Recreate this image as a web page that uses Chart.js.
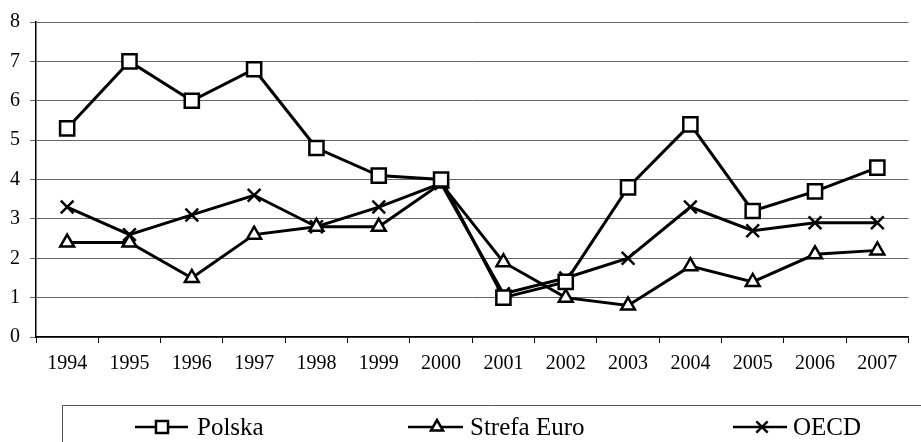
<!DOCTYPE html>
<html>
<head>
<meta charset="utf-8">
<script src="https://cdn.jsdelivr.net/npm/chart.js@4/dist/chart.umd.min.js"></script>
<style>
html,body{margin:0;padding:0;background:#fff;}
#wrap{width:921px;height:442px;position:relative;}
</style>
</head>
<body>
<div id="wrap"><canvas id="c" width="921" height="442"></canvas></div>
<script>
const years = ['1994','1995','1996','1997','1998','1999','2000','2001','2002','2003','2004','2005','2006','2007'];
const polska = [5.3, 7.0, 6.0, 6.8, 4.8, 4.1, 4.0, 1.0, 1.4, 3.8, 5.4, 3.2, 3.7, 4.3];
const strefaEuro = [2.4, 2.4, 1.5, 2.6, 2.8, 2.8, 3.9, 1.9, 1.0, 0.8, 1.8, 1.4, 2.1, 2.2];
const oecd = [3.3, 2.6, 3.1, 3.6, 2.8, 3.3, 3.9, 1.1, 1.5, 2.0, 3.3, 2.7, 2.9, 2.9];
const seriesNames = ['Polska', 'Strefa Euro', 'OECD'];

const FONT = '"Liberation Serif", serif';

const legendPlugin = {
  id: 'boxLegend',
  afterDraw(chart) {
    const ctx = chart.ctx;
    ctx.save();
    ctx.strokeStyle = '#555';
    ctx.lineWidth = 1;
    ctx.beginPath();
    ctx.moveTo(62.5, 442);
    ctx.lineTo(62.5, 405.5);
    ctx.lineTo(921, 405.5);
    ctx.stroke();
    const y = 427;
    const items = [
      {x1: 135, x2: 188, mx: 162, tx: 197, style: 'rect', r: 8.5},
      {x1: 408, x2: 463, mx: 437, tx: 470, style: 'triangle', r: 7},
      {x1: 733, x2: 787, mx: 762, tx: 793, style: 'crossRot', r: 8}
    ];
    items.forEach((it, i) => {
      ctx.strokeStyle = '#000';
      ctx.lineWidth = 2.5;
      ctx.beginPath();
      ctx.moveTo(it.x1, y);
      ctx.lineTo(it.x2, y);
      ctx.stroke();
      ctx.fillStyle = '#fff';
      ctx.strokeStyle = '#000';
      ctx.lineWidth = 2.5;
      Chart.helpers.drawPoint(ctx, {pointStyle: it.style, radius: it.r, borderWidth: 2.5, rotation: 0}, it.mx, y);
      ctx.fillStyle = '#000';
      ctx.font = Chart.helpers.toFont({family: FONT, size: 25}).string;
      ctx.textAlign = 'left';
      ctx.textBaseline = 'middle';
      ctx.fillText(seriesNames[i], it.tx, y + 1);
    });
    ctx.restore();
  }
};

const common = {
  borderColor: '#000',
  borderWidth: 3,
  pointBorderColor: '#000',
  pointBackgroundColor: '#fff',
  pointBorderWidth: 2.5,
  tension: 0,
  fill: false
};

new Chart(document.getElementById('c'), {
  type: 'line',
  data: {
    labels: years,
    datasets: [
      Object.assign({label: seriesNames[0], data: polska, pointStyle: 'rect', pointRadius: 10}, common),
      Object.assign({label: seriesNames[1], data: strefaEuro, pointStyle: 'triangle', pointRadius: 8}, common),
      Object.assign({label: seriesNames[2], data: oecd, pointStyle: 'crossRot', pointRadius: 9}, common)
    ]
  },
  options: {
    responsive: false,
    animation: false,
    layout: {padding: {top: 21, right: 1, left: 0, bottom: 0}},
    plugins: {legend: {display: false}, tooltip: {enabled: false}},
    scales: {
      x: {
        offset: true,
        afterFit: s => { s.height = 105; },
        grid: {offset: true, drawOnChartArea: false, drawTicks: true, tickLength: 6, color: '#000', lineWidth: 1},
        border: {display: true, color: '#000', width: 1.5},
        ticks: {font: {family: FONT, size: 20}, color: '#000', padding: 9, maxRotation: 0, autoSkip: false}
      },
      y: {
        min: 0, max: 8,
        afterFit: s => { s.width = 36; },
        grid: {color: '#666', lineWidth: 1, tickLength: 6, drawTicks: true},
        border: {display: true, color: '#000', width: 1.5},
        ticks: {stepSize: 1, font: {family: FONT, size: 20}, color: '#000', padding: 10}
      }
    }
  },
  plugins: [legendPlugin]
});
</script>
</body>
</html>
